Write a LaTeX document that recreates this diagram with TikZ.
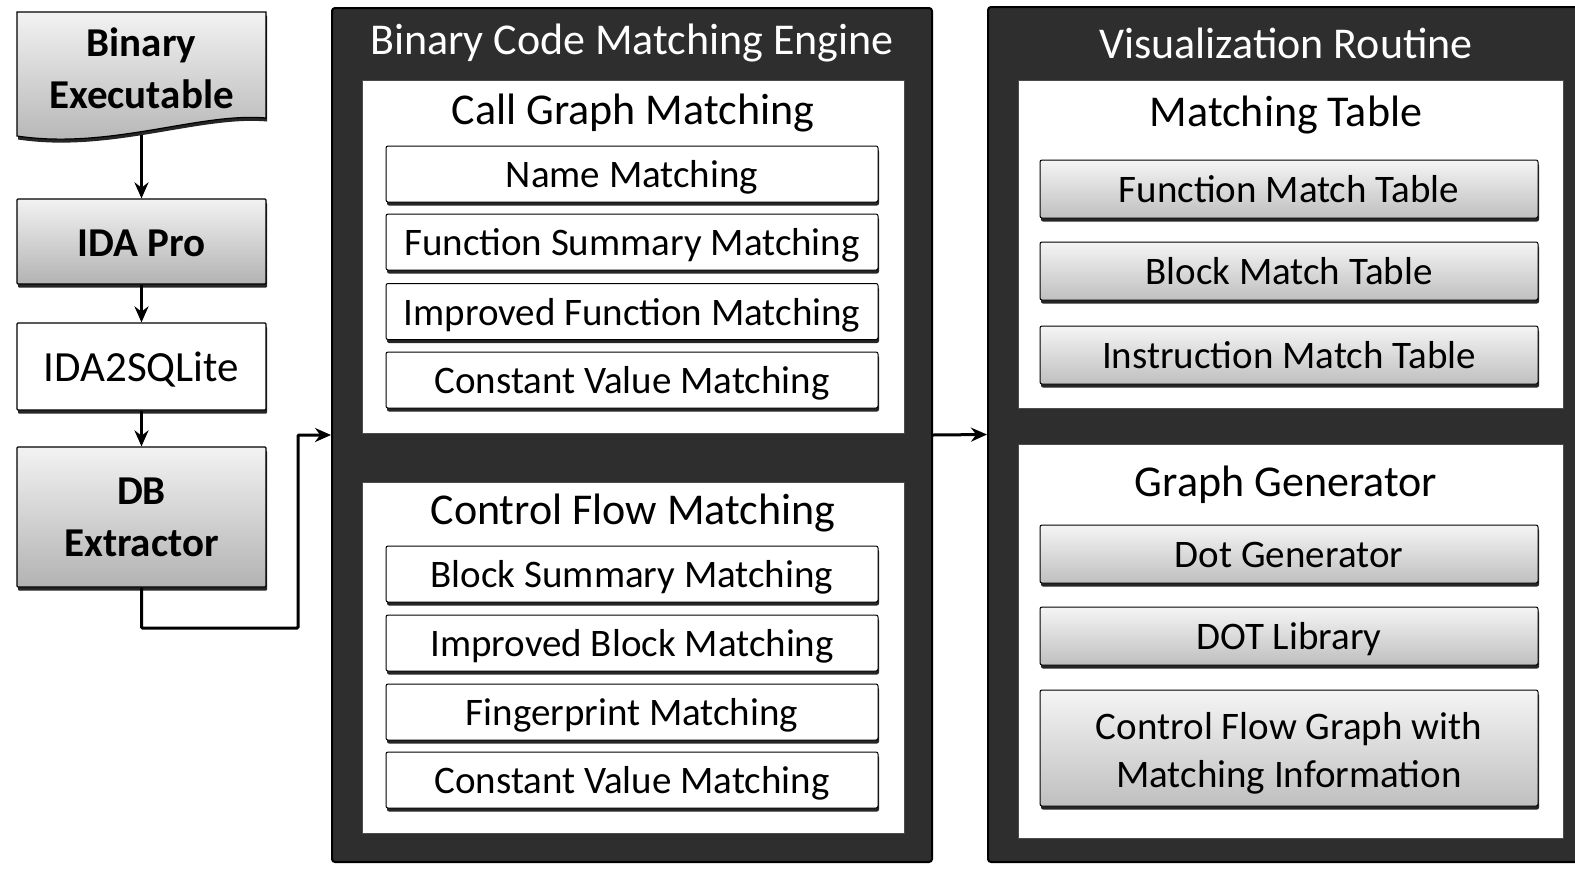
\documentclass[tikz,border=0pt]{standalone}
\usepackage{fontspec}
\setmainfont{Carlito}
\usetikzlibrary{arrows.meta,shadows}
\begin{document}
\begin{tikzpicture}[x=1pt,y=-1pt,
  panel/.style={draw=black, line width=2pt, fill=black!82, rounded corners=3pt, inner sep=0pt},
  inpanel/.style={fill=white, draw=black!70, line width=0.6pt, inner sep=0pt},
  ptitle/.style={text=white, font=\fontsize{44}{50}\selectfont, inner sep=0pt, yshift=-3pt},
  stitle/.style={font=\fontsize{44}{50}\selectfont, inner sep=0pt, yshift=-3pt},
  shad/.style={drop shadow={shadow xshift=1pt, shadow yshift=-3.5pt, fill=black, opacity=0.85}},
  sub/.style={shad, draw=black, line width=1pt, fill=white, rounded corners=2pt,
    minimum width=492pt, minimum height=56pt, inner sep=0pt,
    text height=34pt, text depth=6.5pt,
    font=\fontsize{39}{48}\selectfont, align=center},
  gsub/.style={sub, top color=gray!8, bottom color=gray!50, minimum width=498pt, minimum height=58pt},
  lbox/.style={shad, draw=black, line width=1.2pt, rounded corners=1pt,
    minimum width=249pt, inner sep=0pt, align=center},
  lfont/.style={font=\fontsize{41}{52}\selectfont\bfseries},
  flow/.style={line width=3pt, -{Stealth[length=16pt,width=14pt]}}
]
\useasboundingbox (0,0) rectangle (1575,868);
\fill[white] (0,0) rectangle (1575,868);

% ---------- left column ----------
\fill[black, opacity=0.85] (18,15.5) -- (267,15.5) -- (267,121.5) .. controls (200,115.5) and (110,153.5) .. (18,139.5) -- cycle;
\shade[top color=gray!10, bottom color=gray!60, draw=black, line width=1.2pt]
  (17,12) -- (266,12) -- (266,118) .. controls (200,112) and (110,150) .. (17,136) -- cycle;
\node[inner sep=0pt, minimum width=249pt, minimum height=123pt] (binexe) at (141.5,73.5) {};
\node[lfont, align=center, inner sep=0pt] (binexeT) at (141.5,68) {Binary\\Executable};

\node[lbox, lfont, top color=gray!10, bottom color=gray!60, minimum height=85pt, text height=36pt, text depth=7pt] (idapro) at (141.5,241.5) {IDA Pro};
\node[lbox, fill=white, minimum height=87pt, text height=36pt, text depth=7pt, font=\fontsize{43}{52}\selectfont] (ida2sql) at (141.5,366.5) {IDA2SQLite};
\node[lbox, lfont, top color=gray!10, bottom color=gray!60, minimum height=140pt] (dbext) at (141.5,517) {DB\\Extractor};

% ---------- engine panel ----------
\node[panel, minimum width=600pt, minimum height=854pt] (engine) at (632,435) {};
\node[ptitle] (engineT) at (632,40) {Binary Code Matching Engine};

\node[inpanel, minimum width=542pt, minimum height=353pt] (cgm) at (633,256.5) {};
\node[stitle] (cgmT) at (633,110) {Call Graph Matching};
\node[sub] (nm) at (632,174) {Name Matching};
\node[sub] (fsm) at (632,242) {Function Summary Matching};
\node[sub] (ifm) at (632,311.5) {Improved Function Matching};
\node[sub] (cvm1) at (632,380) {Constant Value Matching};

\node[inpanel, minimum width=542pt, minimum height=351pt] (cfm) at (633,657.5) {};
\node[stitle] (cfmT) at (633,510) {Control Flow Matching};
\node[sub] (bsm) at (632,574) {Block Summary Matching};
\node[sub] (ibm) at (632,643) {Improved Block Matching};
\node[sub] (fpm) at (632,712) {Fingerprint Matching};
\node[sub] (cvm2) at (632,780) {Constant Value Matching};

% ---------- visualization panel ----------
\node[panel, minimum width=590pt, minimum height=855pt] (vis) at (1283,434.5) {};
\node[ptitle] (visT) at (1286,40) {Visualization Routine};

\node[inpanel, minimum width=545pt, minimum height=328pt] (mt) at (1290.5,244) {};
\node[stitle] (mtT) at (1286,112) {Matching Table};
\node[gsub] (fmt) at (1289,189) {Function Match Table};
\node[gsub] (bmt) at (1289,271) {Block Match Table};
\node[gsub] (imt) at (1289,355) {Instruction Match Table};

\node[inpanel, minimum width=545pt, minimum height=394pt] (gg) at (1290.5,641) {};
\node[stitle] (ggT) at (1286,482) {Graph Generator};
\node[gsub] (dg) at (1289,554) {Dot Generator};
\node[gsub] (dl) at (1289,636) {DOT Library};
\node[gsub, minimum height=116pt, text height=87pt, text depth=7.5pt] (cfg) at (1289,748) {Control Flow Graph with\\Matching Information};

% ---------- connectors ----------
\coordinate (bend) at (298,628);
\draw[flow] (binexe.south) -- (idapro.north);
\draw[flow] (idapro.south) -- (ida2sql.north);
\draw[flow] (ida2sql.south) -- (dbext.north);
\draw[flow, rounded corners=1pt] (dbext.south) |- (bend) |- (engine.west);
\draw[flow] (engine.east) -- (vis.west);
\end{tikzpicture}
\end{document}
